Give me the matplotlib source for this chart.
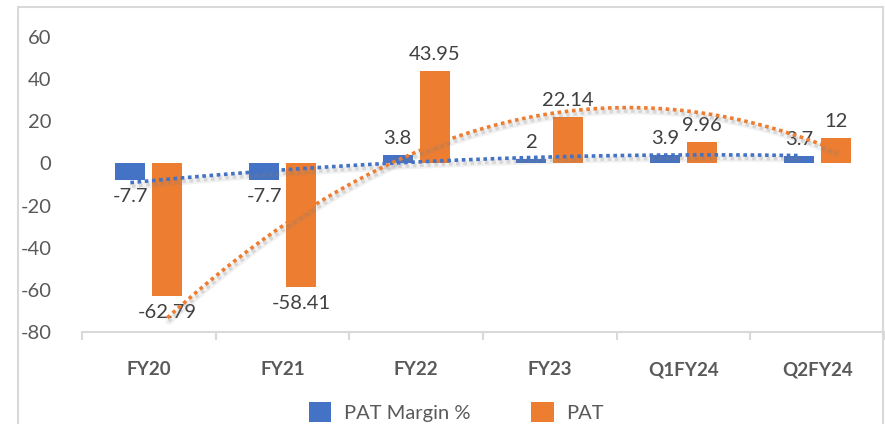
import numpy as np
import matplotlib
matplotlib.use("Agg")
import matplotlib.pyplot as plt
from matplotlib.patches import Rectangle
from matplotlib.transforms import offset_copy

categories = ["FY20", "FY21", "FY22", "FY23", "Q1FY24", "Q2FY24"]
pat_margin = [-7.7, -7.7, 3.8, 2, 3.9, 3.7]
pat = [-62.79, -58.41, 43.95, 22.14, 9.96, 12]
pat_margin_labels = ["-7.7", "-7.7", "3.8", "2", "3.9", "3.7"]
pat_labels = ["-62.79", "-58.41", "43.95", "22.14", "9.96", "12"]
yticks = [-80, -60, -40, -20, 0, 20, 40, 60]

BLUE = "#4472C4"
ORANGE = "#ED7D31"
TXT = "#595959"
LBL = "#404040"
GRID = "#D9D9D9"
FONT = ["Lato", "DejaVu Sans"]
plt.rcParams["font.family"] = FONT

W, H = 885, 424
fig = plt.figure(figsize=(W / 100, H / 100), dpi=100)
ax = fig.add_axes([82 / W, 1 - 332 / H, (884 - 82) / W, (332 - 37) / H])

# outer chart border
fig.patches.append(Rectangle((18 / W, -0.05), (883 - 18) / W, 1.05 - 7 / H,
                             transform=fig.transFigure, fill=False,
                             edgecolor=GRID, linewidth=1.5, zorder=0))

x = np.arange(len(categories))
bw = 0.224
off = 0.138
xb = x - off
xo = x + off
ax.bar(xb, pat_margin, width=bw, color=BLUE, zorder=2, label="PAT Margin %")
ax.bar(xo, pat, width=bw, color=ORANGE, zorder=2, label="PAT")

# data labels
for xs, vals, labs in ((xb, pat_margin, pat_margin_labels), (xo, pat, pat_labels)):
    for xi, v, s in zip(xs, vals, labs):
        if v >= 0:
            ax.annotate(s, (xi, v), xytext=(0, 8), textcoords="offset points",
                        ha="center", va="baseline", fontsize=14.5, color=LBL, zorder=3)
        else:
            ax.annotate(s, (xi, v), xytext=(0, -6), textcoords="offset points",
                        ha="center", va="top", fontsize=14.5, color=LBL, zorder=3)

# polynomial (order 2) trendlines, dotted with soft shadow
for xs, vals, col in ((xb, pat_margin, BLUE), (xo, pat, ORANGE)):
    coef = np.polyfit(x, vals, 2)
    t = np.linspace(0, len(x) - 1, 200)
    xt = t + (xs[0] - x[0])
    yt = np.polyval(coef, t)
    sh = offset_copy(ax.transData, fig=fig, x=1.5, y=-3.5, units="dots")
    ax.plot(xt, yt, color="#7f7f7f", lw=5, alpha=0.10, transform=sh, zorder=4,
            solid_capstyle="round")
    ax.plot(xt, yt, color="#7f7f7f", lw=2.6, alpha=0.22, transform=sh, zorder=4,
            linestyle=(0, (1, 1)))
    ax.plot(xt, yt, color=col, lw=2.6, linestyle=(0, (1, 1)),
            dash_capstyle="butt", zorder=5)

ax.set_xlim(-0.5, len(x) - 0.5)
ax.set_ylim(-80, 60)
ax.set_yticks(yticks)
ax.set_yticklabels([str(v) for v in yticks])
ax.tick_params(axis="y", length=0, pad=22, labelsize=14.5, labelcolor=TXT)

ax.set_xticks(x)
ax.set_xticklabels(categories, fontweight="bold")
ax.tick_params(axis="x", which="major", length=0, pad=21, labelsize=13.5, labelcolor=TXT)
ax.set_xticks(np.arange(-0.5, len(x) + 0.5, 1), minor=True)
ax.tick_params(axis="x", which="minor", length=6, width=1.5, color=GRID)

for s in ("top", "right", "left"):
    ax.spines[s].set_visible(False)
ax.spines["bottom"].set_color(GRID)
ax.spines["bottom"].set_linewidth(1.5)
ax.spines["bottom"].set_zorder(1)

leg = fig.legend(loc="center", bbox_to_anchor=(0.516, 1 - 412 / H), ncol=2,
                 frameon=False, fontsize=14.5, handlelength=1.1, handleheight=1.1,
                 handletextpad=0.65, columnspacing=3.0, labelcolor=TXT)

fig.savefig("out.png", dpi=100)
